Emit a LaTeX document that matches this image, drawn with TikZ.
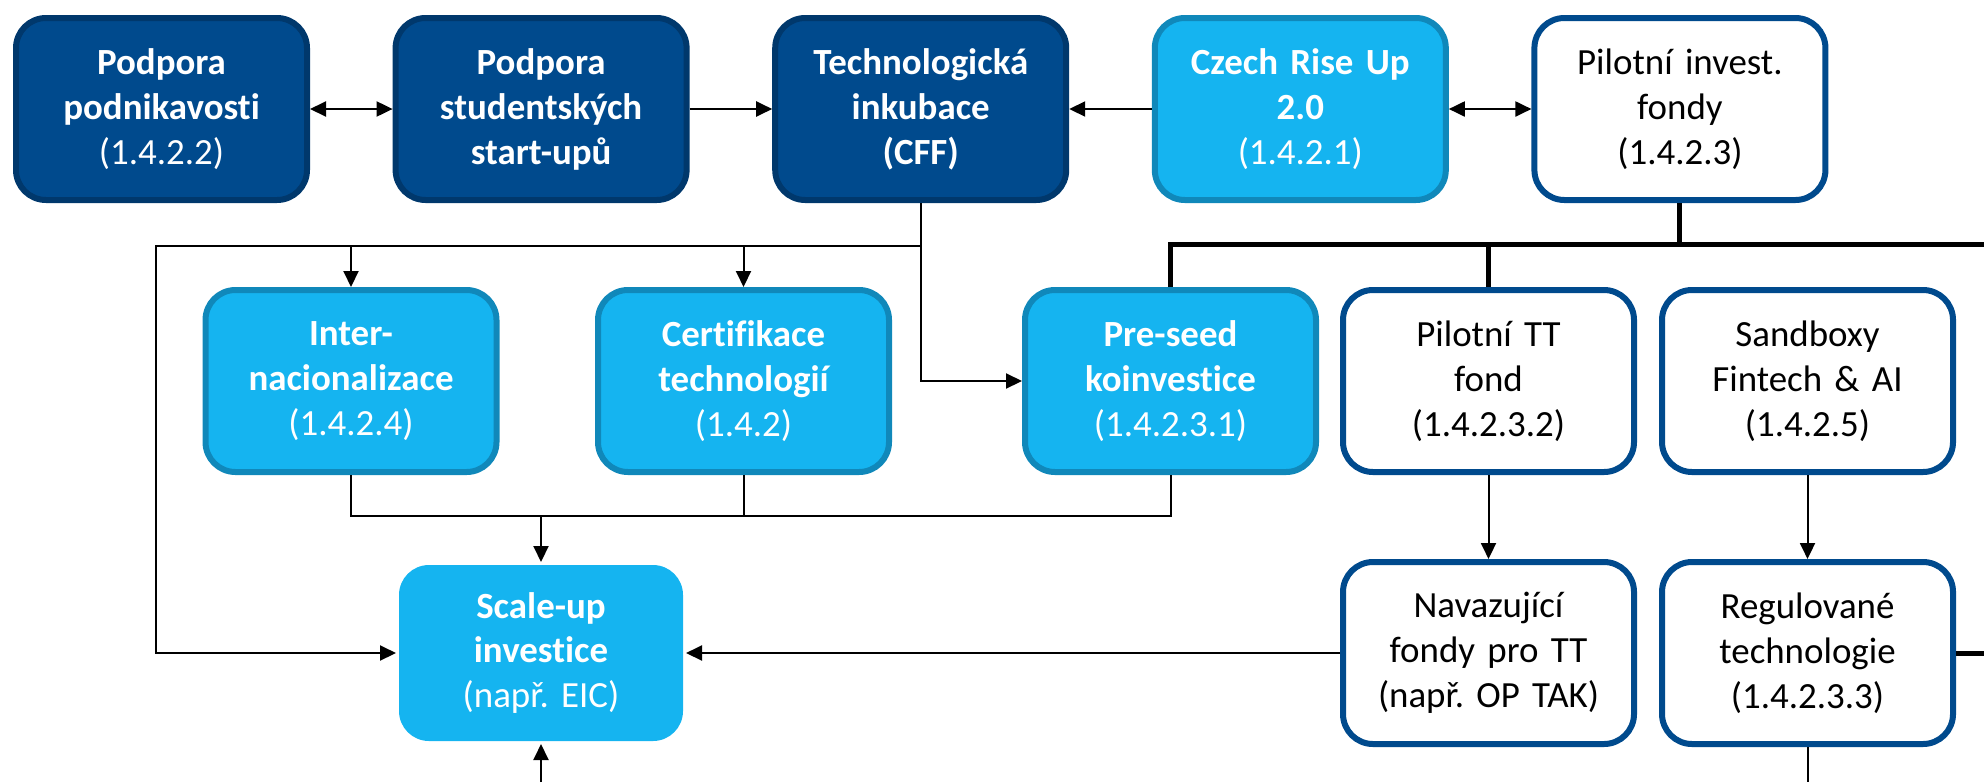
\documentclass[tikz,border=0pt]{standalone}
\usepackage{fontspec}
\setmainfont{Carlito}[Ligatures=NoCommon]
\usetikzlibrary{arrows.meta}
\frenchspacing

\definecolor{tmavamodra}{RGB}{0,74,141}
\definecolor{tmavyokraj}{RGB}{0,56,108}
\definecolor{svetlamodra}{RGB}{21,180,240}
\definecolor{svetlyokraj}{RGB}{16,136,186}

\tikzstyle{tmavy} = [rectangle, rounded corners=0.3cm, minimum width=2.91cm, minimum height=1.82cm, text width=2.6cm, text centered, line width=0.06cm, draw=tmavyokraj, fill=tmavamodra, text=white]
\tikzstyle{svetly} = [rectangle, rounded corners=0.3cm, minimum width=2.91cm, minimum height=1.82cm, text width=2.6cm, text centered, line width=0.06cm, draw=svetlyokraj, fill=svetlamodra, text=white]
\tikzstyle{bily} = [rectangle, rounded corners=0.3cm, minimum width=2.91cm, minimum height=1.82cm, text width=2.6cm, text centered, line width=0.06cm, draw=tmavamodra, fill=white, text=black]
\tikzstyle{spoj} = [line width=0.02cm]
\tikzstyle{tlusty} = [line width=0.05cm]

\begin{document}
\begin{tikzpicture}[node distance=3.796cm, font=\fontsize{10.5}{12.8}\selectfont, >={Triangle[length=0.16cm,width=0.15cm]}]
	\useasboundingbox (0,0) rectangle (19.84,-7.82);

	\node (podnikavost) [tmavy] at (1.615,-1.09) {{\bfseries Podpora\\podnikavosti}\\(1.4.2.2)};
	\node (studenti)    [tmavy, right of=podnikavost] {\bfseries Podpora\\studentských\\start-upů};
	\node (inkubace)    [tmavy, right of=studenti] {\bfseries Technologická\\inkubace\\(CFF)};
	\node (riseup)      [svetly, right of=inkubace] {{\bfseries Czech Rise Up\\2.0}\\(1.4.2.1)};
	\node (fondy)       [bily, right of=riseup] {Pilotní invest.\\fondy\\(1.4.2.3)};

	\node (inter)       [svetly] at (3.51,-3.81) {{\bfseries Inter-\\nacionalizace}\\(1.4.2.4)};
	\node (certifikace) [svetly] at (7.435,-3.81) {{\bfseries Certifikace\\technologií}\\(1.4.2)};
	\node (preseed)     [svetly] at (11.705,-3.81) {{\bfseries Pre-seed\\koinvestice}\\(1.4.2.3.1)};
	\node (ttfond)      [bily] at (14.885,-3.81) {Pilotní TT\\fond\\(1.4.2.3.2)};
	\node (sandbox)     [bily] at (18.075,-3.81) {Sandboxy\\Fintech \& AI\\(1.4.2.5)};

	\node (scaleup)     [svetly, draw=none, minimum width=2.84cm, minimum height=1.76cm] at (5.41,-6.53) {{\bfseries Scale-up\\investice}\\(např. EIC)};
	\node (navazujici)  [bily] at (14.885,-6.53) {Navazující\\fondy pro TT\\(např. OP TAK)};
	\node (regulace)    [bily] at (18.075,-6.53) {Regulované\\technologie\\(1.4.2.3.3)};

	\coordinate (vlevo) at (1.56,-2.46);
	\coordinate (dole)  at (5.41,-5.16);
	\coordinate (hrana) at (19.84,-2.44);
	\coordinate (zdola) at (5.41,-7.82);

	\draw[<->,spoj] (podnikavost) -- (studenti);
	\draw[->,spoj] (studenti) -- (inkubace);
	\draw[->,spoj] (riseup) -- (inkubace);
	\draw[<->,spoj] (riseup) -- (fondy);

	\draw[->,spoj] (inkubace.south) |- (vlevo) |- (scaleup.west);
	\draw[->,spoj] (inkubace.south) |- (preseed.west);
	\draw[->,spoj] (inter.north |- vlevo) -- (inter.north);
	\draw[->,spoj] (certifikace.north |- vlevo) -- (certifikace.north);

	\draw[spoj] (inter.south) |- (preseed.south |- dole) -- (preseed.south);
	\draw[spoj] (certifikace.south) -- (certifikace.south |- dole);
	\draw[->,spoj] (dole) -- (scaleup.north);
	\draw[->,spoj] (zdola) -- (scaleup.south);

	\draw[tlusty] (fondy.south) -- (fondy.south |- hrana);
	\draw[tlusty] (preseed.north) |- (hrana);
	\draw[tlusty] (ttfond.north) -- (ttfond.north |- hrana);

	\draw[->,spoj] (ttfond) -- (navazujici);
	\draw[->,spoj] (sandbox) -- (regulace);
	\draw[->,spoj] (navazujici) -- (scaleup);
	\draw[tlusty] (regulace.east) -- (regulace.east -| hrana);
	\draw[spoj] (regulace.south) -- (regulace.south |- zdola);
\end{tikzpicture}
\end{document}
